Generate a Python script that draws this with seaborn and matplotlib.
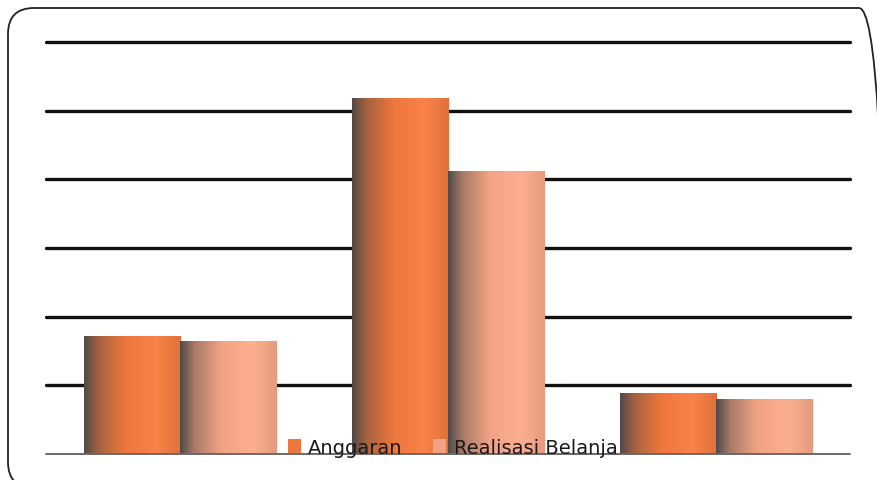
import numpy as np
import pandas as pd
import matplotlib
matplotlib.use("Agg")
import matplotlib.pyplot as plt
from matplotlib.colors import LinearSegmentedColormap, to_rgb
from matplotlib.patches import FancyBboxPatch
from matplotlib.transforms import IdentityTransform
import seaborn as sns

categories = ["A", "B", "C"]
series = ["Anggaran", "Realisasi Belanja"]
anggaran = [1.72, 5.18, 0.89]
realisasi = [1.65, 4.12, 0.80]
colors = {"Anggaran": "#EC763C", "Realisasi Belanja": "#F1A284"}

df = pd.DataFrame({
    "cat": categories * 2,
    "series": [series[0]] * 3 + [series[1]] * 3,
    "value": anggaran + realisasi,
})

sns.set_theme(style="white")
plt.rcParams["font.family"] = ["DejaVu Sans"]

fig = plt.figure(figsize=(8.78, 4.81), dpi=100)
fig.patch.set_facecolor("white")

# rounded frame (pixel coordinates, origin bottom-left)
frame = FancyBboxPatch((8, -8), 877, 481 - 9 + 8,
                       boxstyle="round,pad=0,rounding_size=26",
                       transform=IdentityTransform(), fill=False,
                       edgecolor="#222222", linewidth=1.3)
fig.patches.append(frame)

ax = fig.add_axes([46 / 878, (481 - 455) / 481, 804 / 878, (455 - 43) / 481])
ax.set_facecolor("none")

sns.barplot(data=df, x="cat", y="value", hue="series", palette=colors,
            width=0.72, gap=0, ax=ax, saturation=1, zorder=3,
            edgecolor="none", linewidth=0)

ax.set_xlim(-0.5, 2.5)
ax.set_ylim(0, 6)
ax.set_yticks([1, 2, 3, 4, 5, 6])
ax.set_xticks([])
ax.set_yticklabels([])
ax.set_xlabel("")
ax.set_ylabel("")
ax.tick_params(left=False, bottom=False)
for s in ax.spines.values():
    s.set_visible(False)
for y in [1, 2, 3, 4, 5, 6]:
    ax.axhline(y, color="#111111", linewidth=2.4, zorder=1, clip_on=False)
ax.axhline(0, color="#6a6a6a", linewidth=1.4, zorder=4, clip_on=False)

# gradient overlay on each bar
dark = np.array(to_rgb("#4f4a48"))
for patch in list(ax.patches):
    x0, y0 = patch.get_x(), patch.get_y()
    w, h = patch.get_width(), patch.get_height()
    if h <= 0:
        continue
    base = np.array(patch.get_facecolor()[:3])
    light = np.clip(base + 0.05, 0, 1)
    cmap = LinearSegmentedColormap.from_list(
        "g", [(0.0, dark), (0.15, dark * 0.45 + base * 0.55), (0.42, base),
              (0.75, light), (1.0, base * 0.95)])
    grad = np.linspace(0, 1, 256).reshape(1, -1)
    im = ax.imshow(grad, extent=[x0, x0 + w, y0, y0 + h], aspect="auto",
                   cmap=cmap, zorder=3.5, interpolation="bicubic")
    im.set_clip_path(patch)

ax.set_xlim(-0.5, 2.5)
ax.set_ylim(0, 6)

handles, labels = ax.get_legend_handles_labels()
leg = ax.legend(handles, labels, loc="center", bbox_to_anchor=(0.5056, 0.016),
                ncol=2, frameon=False, fontsize=14, handlelength=0.67,
                handleheight=0.67, handletextpad=0.4, columnspacing=1.55,
                borderpad=0, borderaxespad=0)
leg.set_zorder(6)
for t in leg.get_texts():
    t.set_color("#1a1a1a")

fig.savefig("out.png", dpi=100)
